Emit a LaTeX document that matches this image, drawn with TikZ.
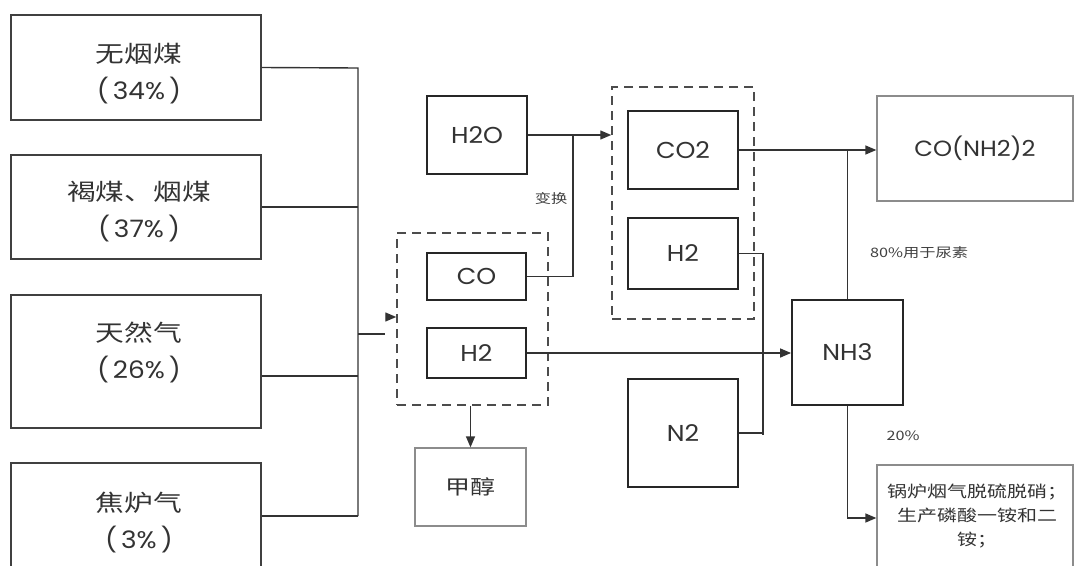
\documentclass[tikz,border=0pt]{standalone}
\usepackage{fontspec}
\setmainfont{Poppins}[FakeStretch=1.1]
\newfontfamily\cjk{Noto Sans CJK SC}[FakeStretch=1.25]
\usetikzlibrary{arrows.meta,calc}
\begin{document}
\begin{tikzpicture}[x=1pt,y=-1pt,
  srcbox/.style={draw=black!75,line width=1.6pt,rectangle,inner sep=0pt},
  darkbox/.style={draw=black!85,line width=1.8pt,rectangle,inner sep=0pt,text=black!80,font=\fontsize{23}{26}\selectfont},
  lightbox/.style={draw=black!45,line width=1.3pt,rectangle,inner sep=0pt,text=black!80},
  dashbox/.style={draw=black!70,line width=1.5pt,dash pattern=on 9pt off 6pt,rectangle,inner sep=0pt},
  srctext/.style={align=center,text=black!80,font=\fontsize{24}{37}\selectfont},
  conn/.style={draw=black!80,line width=1.4pt},
  arr/.style={conn,-{Triangle[length=11pt,width=9pt]}},
  small/.style={text=black!75,font=\cjk\fontsize{13}{15}\selectfont}
]
\useasboundingbox (0,0) rectangle (1075,565);
\clip (0,0) rectangle (1075,565);

% source boxes
\node[srcbox,minimum width=250pt,minimum height=105pt] (b1) at (136,67.5) {};
\node[srcbox,minimum width=250pt,minimum height=104pt] (b2) at (136,207) {};
\node[srcbox,minimum width=250pt,minimum height=133pt] (b3) at (136,361.5) {};
\node[srcbox,minimum width=250pt,minimum height=117pt] (b4) at (136,521.5) {};
\node[srctext] (t1) at (139,74) {{\cjk\fontsize{23}{37}\selectfont 无烟煤}\\(\,34\%\,)};
\node[srctext] (t2) at (139,212) {{\cjk\fontsize{23}{37}\selectfont 褐煤、烟煤}\\(\,37\%\,)};
\node[srctext] (t3) at (139,352) {{\cjk\fontsize{23}{37}\selectfont 天然气}\\(\,26\%\,)};
\node[srctext] (t4) at (139,523) {{\cjk\fontsize{23}{37}\selectfont 焦炉气}\\(\,3\%\,)};

% bus
\coordinate (jt) at (358,68);
\coordinate (jb) at (358,516);
\coordinate (jm) at (358,334);
\draw[conn] (b1.east) -- (jt) -- (jb);
\draw[conn] (b2.east) -- (b2.east -| jt);
\draw[conn] ([yshift=-14.5pt]b3.east) -- ([yshift=-14.5pt]b3.east -| jt);
\draw[conn] ([yshift=5.5pt]b4.east) -- (jb);
\coordinate (je) at (385,334);
\draw[conn] (jm) -- (je);

% syngas group
\node[dashbox,minimum width=151pt,minimum height=172pt] (d1) at (472.5,319) {};
\coordinate (ja) at (386,317);
\draw[arr] (ja) -- (ja -| d1.west);
\node[darkbox,minimum width=99pt,minimum height=47pt] (co) at (476.5,276.5) {CO};
\node[darkbox,minimum width=99pt,minimum height=50pt] (h2a) at (476.5,353) {H2};
\node[darkbox,minimum width=100pt,minimum height=78pt] (h2o) at (477,135) {H2O};
\node[lightbox,minimum width=111pt,minimum height=78pt,font=\cjk\fontsize{20}{24}\selectfont] (meoh) at (470.5,487) {甲醇};
\draw[arr] (meoh.north |- d1.south) -- (meoh.north);

% shift group
\node[dashbox,minimum width=142pt,minimum height=232pt] (d2) at (683,203) {};
\node[darkbox,minimum width=110pt,minimum height=78pt] (co2) at (683,150) {CO2};
\node[darkbox,minimum width=110pt,minimum height=71pt] (h2b) at (683,253.5) {H2};
\draw[arr] (h2o.east) -- (h2o.east -| d2.west);
\coordinate (sh) at (573,135);
\draw[conn] (co.east) -| (sh);
\node[small] (lbl) at (551,199) {变换};

% products
\node[lightbox,minimum width=196pt,minimum height=105pt,font=\fontsize{22}{26}\selectfont] (urea) at (975,148.5) {CO(NH2)2};
\node[darkbox,minimum width=111pt,minimum height=105pt] (nh3) at (847.5,352.5) {NH3};
\node[darkbox,minimum width=110pt,minimum height=108pt] (n2) at (683,433) {N2};
\node[lightbox,minimum width=196pt,minimum height=120pt] (use) at (975,525) {};
\node[align=center,text=black!80,font=\cjk\fontsize{16}{24}\selectfont] (uset) at (977,516) {锅炉烟气脱硫脱硝；\\生产磷酸一铵和二\\铵；};

\draw[arr] (co2.east) -- (co2.east -| urea.west);
\draw[conn] (nh3.north) -- (nh3.north |- co2.east);
\draw[arr] (h2a.east) -- (h2a.east -| nh3.west);
\coordinate (vx) at (763,435);
\draw[conn] (h2b.east) -| (vx);
\draw[conn] (n2.east) -- (n2.east -| vx);
\draw[arr] (nh3.south) |- ([yshift=7pt]use.west);
\node[small] (p80) at (919,253) {80\%用于尿素};
\node[small] (p20) at (903,436) {20\%};
\end{tikzpicture}
\end{document}
